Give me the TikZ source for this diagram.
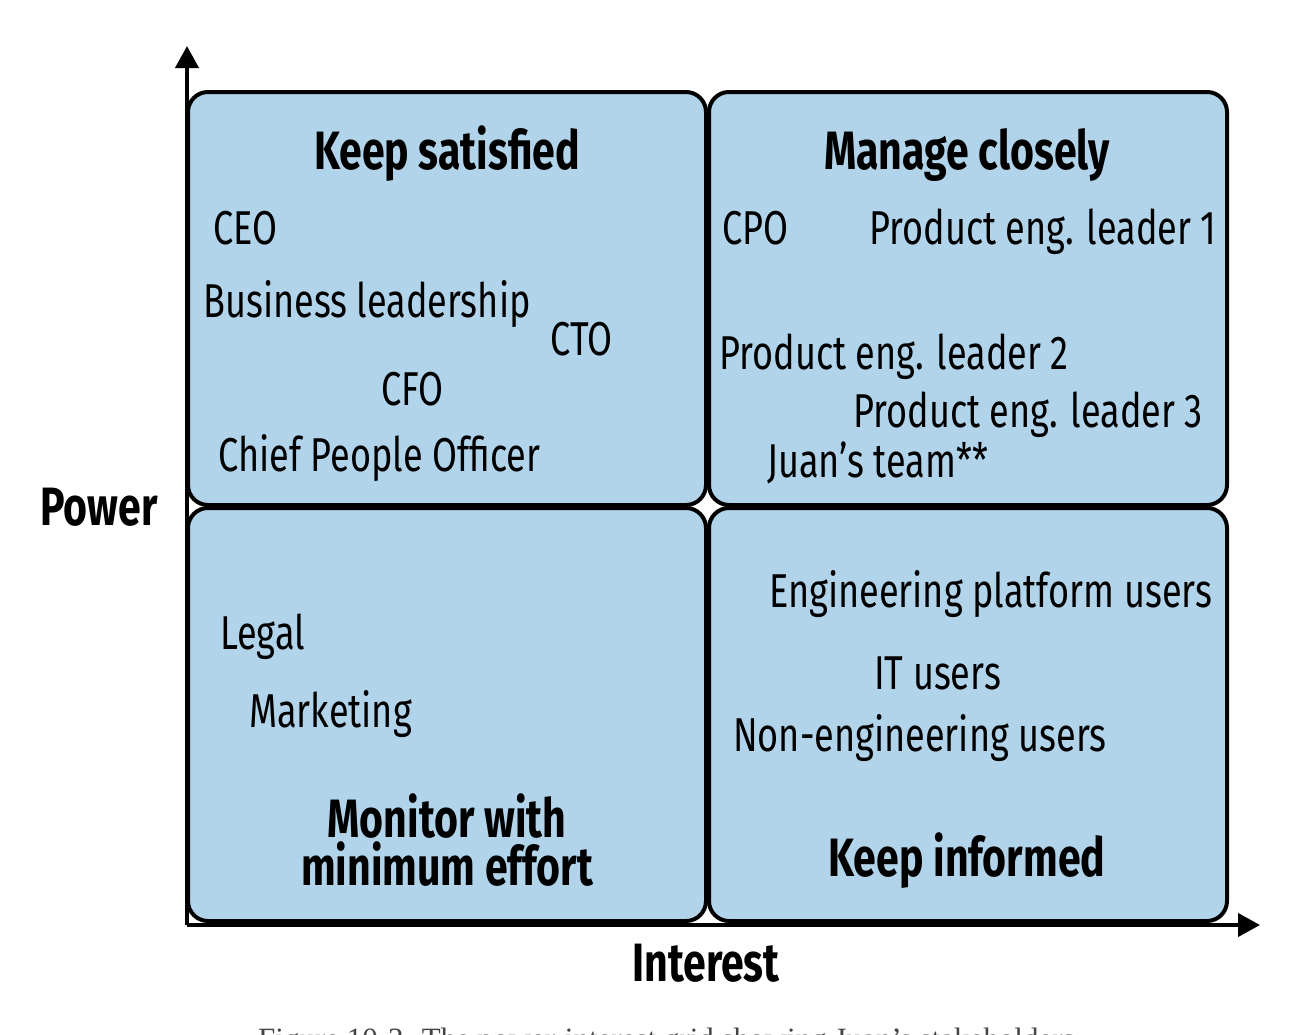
\documentclass[tikz,border=0pt]{standalone}
\usepackage{fontspec}
\setmainfont{Fira Sans}[FakeStretch=0.76]
\newfontfamily\capfont{Liberation Serif}
\usetikzlibrary{arrows.meta}
\definecolor{quadblue}{HTML}{B2D4EA}
\definecolor{capgray}{HTML}{444444}
\tikzset{
  quad/.style={draw=black, line width=4pt, fill=quadblue, rounded corners=20pt,
    minimum width=518pt, minimum height=413pt, inner sep=0pt},
  lbl/.style={anchor=base west, inner sep=0pt, font=\fontsize{47.5}{52}\selectfont},
  ttl/.style={anchor=base, inner sep=0pt, align=center, font=\fontsize{54}{48}\selectfont\bfseries},
  axis/.style={line width=4pt, -{Triangle[length=22pt,width=23pt]}},
}
\begin{document}
\begin{tikzpicture}[x=1pt,y=-1pt]
\useasboundingbox[fill=white] (0,0) rectangle (1298,1034);
% axes
\coordinate (O) at (187,925);
\coordinate (ytip) at (187,46);
\coordinate (xtip) at (1260,925);
\draw[axis] (O) -- (ytip);
\draw[axis] (O) -- (xtip);
% quadrants
\node[quad] (tl) at (447,298.5) {};
\node[quad] (tr) at (968,298.5) {};
\node[quad] (bl) at (447,714.5) {};
\node[quad] (br) at (968,714.5) {};
% axis labels
\node[ttl] (power) at (99,525) {Power};
\node[ttl] (interest) at (706,981) {Interest};
% titles
\node[ttl] (ks) at (447,169) {Keep satisfied};
\node[ttl] (mc) at (967,169) {Manage closely};
\node[ttl] (mw) at (447,885) {Monitor with\\minimum effort};
\node[ttl] (ki) at (967,876) {Keep informed};
% top left
\node[lbl] (ceo) at (213,244) {CEO};
\node[lbl] (bus) at (203,317) {Business leadership};
\node[lbl] (cto) at (550,355) {CTO};
\node[lbl] (cfo) at (381,405) {CFO};
\node[lbl] (cpeo) at (218,471) {Chief People Officer};
% top right
\node[lbl] (cpo) at (722,244) {CPO};
\node[lbl] (pe1) at (869,244) {Product eng. leader 1};
\node[lbl] (pe2) at (719,369) {Product eng. leader 2};
\node[lbl] (pe3) at (853,427) {Product eng. leader 3};
\node[lbl] (juan) at (767,477) {Juan’s team**};
% bottom left
\node[lbl] (legal) at (220,649) {Legal};
\node[lbl] (mkt) at (249,727) {Marketing};
% bottom right
\node[lbl] (epu) at (769,607) {Engineering platform users};
\node[lbl] (itu) at (874,689) {IT users};
\node[lbl] (neu) at (733,751) {Non-engineering users};
% caption (cut off by the page edge, as in the reference)
\begin{scope}
\clip (0,0) rectangle (1298,1034);
\node[anchor=base west, inner sep=0pt, text=capgray, font=\capfont\fontsize{31}{34}\selectfont] (cap) at (258,1049) {Figure 10-2. The power-interest grid showing Juan’s stakeholders};
\end{scope}
\end{tikzpicture}
\end{document}
